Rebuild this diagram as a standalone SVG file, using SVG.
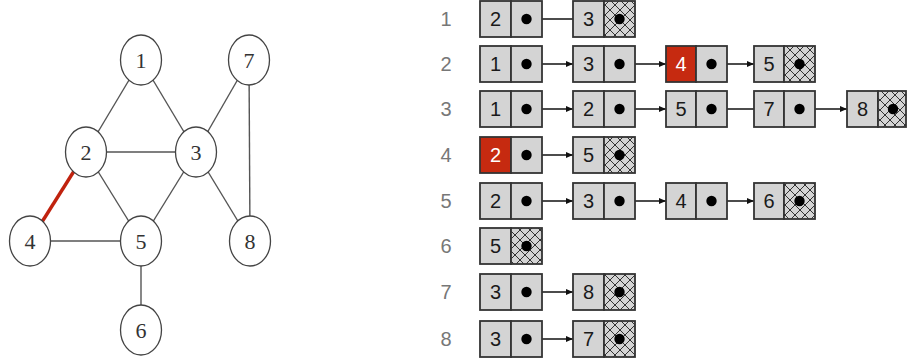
<svg xmlns="http://www.w3.org/2000/svg" width="907" height="363" viewBox="0 0 907 363">
<style>
.edge{stroke:#555;stroke-width:1.4;fill:none}
.red{stroke:#c0220e;stroke-width:3.4}
.node ellipse{fill:#fff;stroke:#444;stroke-width:1.3}
.nl{font-family:"Liberation Serif","DejaVu Serif",serif;font-size:22px;fill:#333;text-anchor:middle}
.rl{font-family:"Liberation Sans","DejaVu Sans",sans-serif;font-size:20px;fill:#777;text-anchor:middle}
.cell{fill:#d4d4d4;stroke:#333;stroke-width:1.8}
.hot{fill:#c62a10;stroke:#333;stroke-width:1.8}
.hatch{fill:url(#xh);stroke:#333;stroke-width:1.8}
.ct{font-family:"Liberation Sans","DejaVu Sans",sans-serif;font-size:20px;fill:#1a1a1a;text-anchor:middle}
.cw{fill:#fff}
.dot{fill:#000}
.link{stroke:#111;stroke-width:1.4;fill:none}
</style>
<defs>
<pattern id="xh" width="10" height="10" patternUnits="userSpaceOnUse">
<rect width="10" height="10" fill="#d4d4d4"/>
<path d="M0,0 L10,10 M10,0 L0,10 M-5,5 L5,15 M5,-5 L15,5 M15,5 L5,15 M5,-5 L-5,5" stroke="#333" stroke-width="1"/>
</pattern>
<marker id="ah" markerWidth="8" markerHeight="8" refX="7" refY="4" orient="auto" markerUnits="userSpaceOnUse">
<path d="M0,1 L7,4 L0,7 Z" fill="#111"/>
</marker>
</defs>

<g id="edges">
<line class="edge" x1="141" y1="60" x2="86" y2="152"/>
<line class="edge" x1="141" y1="60" x2="196" y2="152"/>
<line class="edge" x1="86" y1="152" x2="196" y2="152"/>
<line class="edge" x1="86" y1="152" x2="141" y2="241"/>
<line class="edge" x1="196" y1="152" x2="141" y2="241"/>
<line class="edge" x1="196" y1="152" x2="249" y2="60"/>
<line class="edge" x1="196" y1="152" x2="250" y2="241"/>
<line class="edge" x1="249" y1="60" x2="250" y2="241"/>
<line class="edge" x1="30" y1="241" x2="141" y2="241"/>
<line class="edge" x1="141" y1="241" x2="141" y2="330"/>
<line class="edge red" x1="86" y1="152" x2="30" y2="241"/>
</g>

<g id="n1" class="node"><ellipse cx="141" cy="60" rx="20.5" ry="25"/><text class="nl" x="141" y="68">1</text></g>
<g id="n2" class="node"><ellipse cx="86" cy="152" rx="20.5" ry="25"/><text class="nl" x="86" y="160">2</text></g>
<g id="n3" class="node"><ellipse cx="196" cy="152" rx="20.5" ry="25"/><text class="nl" x="196" y="160">3</text></g>
<g id="n4" class="node"><ellipse cx="30" cy="241" rx="20.5" ry="25"/><text class="nl" x="30" y="249">4</text></g>
<g id="n5" class="node"><ellipse cx="141" cy="241" rx="20.5" ry="25"/><text class="nl" x="141" y="249">5</text></g>
<g id="n6" class="node"><ellipse cx="141" cy="330" rx="20.5" ry="25"/><text class="nl" x="141" y="338">6</text></g>
<g id="n7" class="node"><ellipse cx="249" cy="60" rx="20.5" ry="25"/><text class="nl" x="249" y="68">7</text></g>
<g id="n8" class="node"><ellipse cx="250" cy="241" rx="20.5" ry="25"/><text class="nl" x="250" y="249">8</text></g>

<g id="row-labels">
<text class="rl" x="446" y="26">1</text>
<text class="rl" x="446" y="71">2</text>
<text class="rl" x="446" y="116">3</text>
<text class="rl" x="446" y="162">4</text>
<text class="rl" x="446" y="208">5</text>
<text class="rl" x="446" y="253">6</text>
<text class="rl" x="446" y="299">7</text>
<text class="rl" x="446" y="346">8</text>
</g>

<g id="links">
<line class="link" x1="511" y1="19" x2="573" y2="19"/>
<line class="link" x1="511" y1="64" x2="573" y2="64" marker-end="url(#ah)"/>
<line class="link" x1="604" y1="64" x2="666" y2="64" marker-end="url(#ah)"/>
<line class="link" x1="697" y1="64" x2="754" y2="64" marker-end="url(#ah)"/>
<line class="link" x1="511" y1="109" x2="573" y2="109" marker-end="url(#ah)"/>
<line class="link" x1="604" y1="109" x2="666" y2="109" marker-end="url(#ah)"/>
<line class="link" x1="697" y1="109" x2="754" y2="109"/>
<line class="link" x1="785" y1="109" x2="847" y2="109" marker-end="url(#ah)"/>
<line class="link" x1="511" y1="155" x2="573" y2="155" marker-end="url(#ah)"/>
<line class="link" x1="511" y1="201" x2="573" y2="201" marker-end="url(#ah)"/>
<line class="link" x1="604" y1="201" x2="666" y2="201" marker-end="url(#ah)"/>
<line class="link" x1="697" y1="201" x2="754" y2="201" marker-end="url(#ah)"/>
<line class="link" x1="511" y1="292" x2="573" y2="292" marker-end="url(#ah)"/>
<line class="link" x1="511" y1="339" x2="573" y2="339" marker-end="url(#ah)"/>
</g>

<!-- row 1 -->
<g id="r1c1"><rect class="cell" x="480" y="1" width="31" height="36"/><rect class="cell" x="511" y="1" width="31" height="36"/><text class="ct" x="495.5" y="26">2</text><circle class="dot" cx="526.5" cy="19" r="5.2"/></g>
<g id="r1c2"><rect class="cell" x="573" y="1" width="31" height="36"/><rect class="hatch" x="604" y="1" width="31" height="36"/><text class="ct" x="588.5" y="26">3</text><circle class="dot" cx="619.5" cy="19" r="5.2"/></g>
<!-- row 2 -->
<g id="r2c1"><rect class="cell" x="480" y="46" width="31" height="36"/><rect class="cell" x="511" y="46" width="31" height="36"/><text class="ct" x="495.5" y="71">1</text><circle class="dot" cx="526.5" cy="64" r="5.2"/></g>
<g id="r2c2"><rect class="cell" x="573" y="46" width="31" height="36"/><rect class="cell" x="604" y="46" width="31" height="36"/><text class="ct" x="588.5" y="71">3</text><circle class="dot" cx="619.5" cy="64" r="5.2"/></g>
<g id="r2c3"><rect class="hot" x="666" y="46" width="30" height="36"/><rect class="cell" x="696" y="46" width="31" height="36"/><text class="ct cw" x="681" y="71">4</text><circle class="dot" cx="711.5" cy="64" r="5.2"/></g>
<g id="r2c4"><rect class="cell" x="754" y="46" width="30" height="36"/><rect class="hatch" x="784" y="46" width="31" height="36"/><text class="ct" x="769" y="71">5</text><circle class="dot" cx="799.5" cy="64" r="5.2"/></g>
<!-- row 3 -->
<g id="r3c1"><rect class="cell" x="480" y="91" width="31" height="36"/><rect class="cell" x="511" y="91" width="31" height="36"/><text class="ct" x="495.5" y="116">1</text><circle class="dot" cx="526.5" cy="109" r="5.2"/></g>
<g id="r3c2"><rect class="cell" x="573" y="91" width="31" height="36"/><rect class="cell" x="604" y="91" width="31" height="36"/><text class="ct" x="588.5" y="116">2</text><circle class="dot" cx="619.5" cy="109" r="5.2"/></g>
<g id="r3c3"><rect class="cell" x="666" y="91" width="30" height="36"/><rect class="cell" x="696" y="91" width="31" height="36"/><text class="ct" x="681" y="116">5</text><circle class="dot" cx="711.5" cy="109" r="5.2"/></g>
<g id="r3c4"><rect class="cell" x="754" y="91" width="30" height="36"/><rect class="cell" x="784" y="91" width="31" height="36"/><text class="ct" x="769" y="116">7</text><circle class="dot" cx="799.5" cy="109" r="5.2"/></g>
<g id="r3c5"><rect class="cell" x="847" y="91" width="31" height="36"/><rect class="hatch" x="878" y="91" width="28" height="36"/><text class="ct" x="862.5" y="116">8</text><circle class="dot" cx="893" cy="109" r="5.2"/></g>
<!-- row 4 -->
<g id="r4c1"><rect class="hot" x="480" y="137" width="31" height="36"/><rect class="cell" x="511" y="137" width="31" height="36"/><text class="ct cw" x="495.5" y="162">2</text><circle class="dot" cx="526.5" cy="155" r="5.2"/></g>
<g id="r4c2"><rect class="cell" x="573" y="137" width="31" height="36"/><rect class="hatch" x="604" y="137" width="31" height="36"/><text class="ct" x="588.5" y="162">5</text><circle class="dot" cx="619.5" cy="155" r="5.2"/></g>
<!-- row 5 -->
<g id="r5c1"><rect class="cell" x="480" y="183" width="31" height="36"/><rect class="cell" x="511" y="183" width="31" height="36"/><text class="ct" x="495.5" y="208">2</text><circle class="dot" cx="526.5" cy="201" r="5.2"/></g>
<g id="r5c2"><rect class="cell" x="573" y="183" width="31" height="36"/><rect class="cell" x="604" y="183" width="31" height="36"/><text class="ct" x="588.5" y="208">3</text><circle class="dot" cx="619.5" cy="201" r="5.2"/></g>
<g id="r5c3"><rect class="cell" x="666" y="183" width="30" height="36"/><rect class="cell" x="696" y="183" width="31" height="36"/><text class="ct" x="681" y="208">4</text><circle class="dot" cx="711.5" cy="201" r="5.2"/></g>
<g id="r5c4"><rect class="cell" x="754" y="183" width="30" height="36"/><rect class="hatch" x="784" y="183" width="31" height="36"/><text class="ct" x="769" y="208">6</text><circle class="dot" cx="799.5" cy="201" r="5.2"/></g>
<!-- row 6 -->
<g id="r6c1"><rect class="cell" x="480" y="228" width="31" height="36"/><rect class="hatch" x="511" y="228" width="31" height="36"/><text class="ct" x="495.5" y="253">5</text><circle class="dot" cx="526.5" cy="246" r="5.2"/></g>
<!-- row 7 -->
<g id="r7c1"><rect class="cell" x="480" y="274" width="31" height="36"/><rect class="cell" x="511" y="274" width="31" height="36"/><text class="ct" x="495.5" y="299">3</text><circle class="dot" cx="526.5" cy="292" r="5.2"/></g>
<g id="r7c2"><rect class="cell" x="573" y="274" width="31" height="36"/><rect class="hatch" x="604" y="274" width="31" height="36"/><text class="ct" x="588.5" y="299">8</text><circle class="dot" cx="619.5" cy="292" r="5.2"/></g>
<!-- row 8 -->
<g id="r8c1"><rect class="cell" x="480" y="321" width="31" height="36"/><rect class="cell" x="511" y="321" width="31" height="36"/><text class="ct" x="495.5" y="346">3</text><circle class="dot" cx="526.5" cy="339" r="5.2"/></g>
<g id="r8c2"><rect class="cell" x="573" y="321" width="31" height="36"/><rect class="hatch" x="604" y="321" width="31" height="36"/><text class="ct" x="588.5" y="346">7</text><circle class="dot" cx="619.5" cy="339" r="5.2"/></g>
</svg>
